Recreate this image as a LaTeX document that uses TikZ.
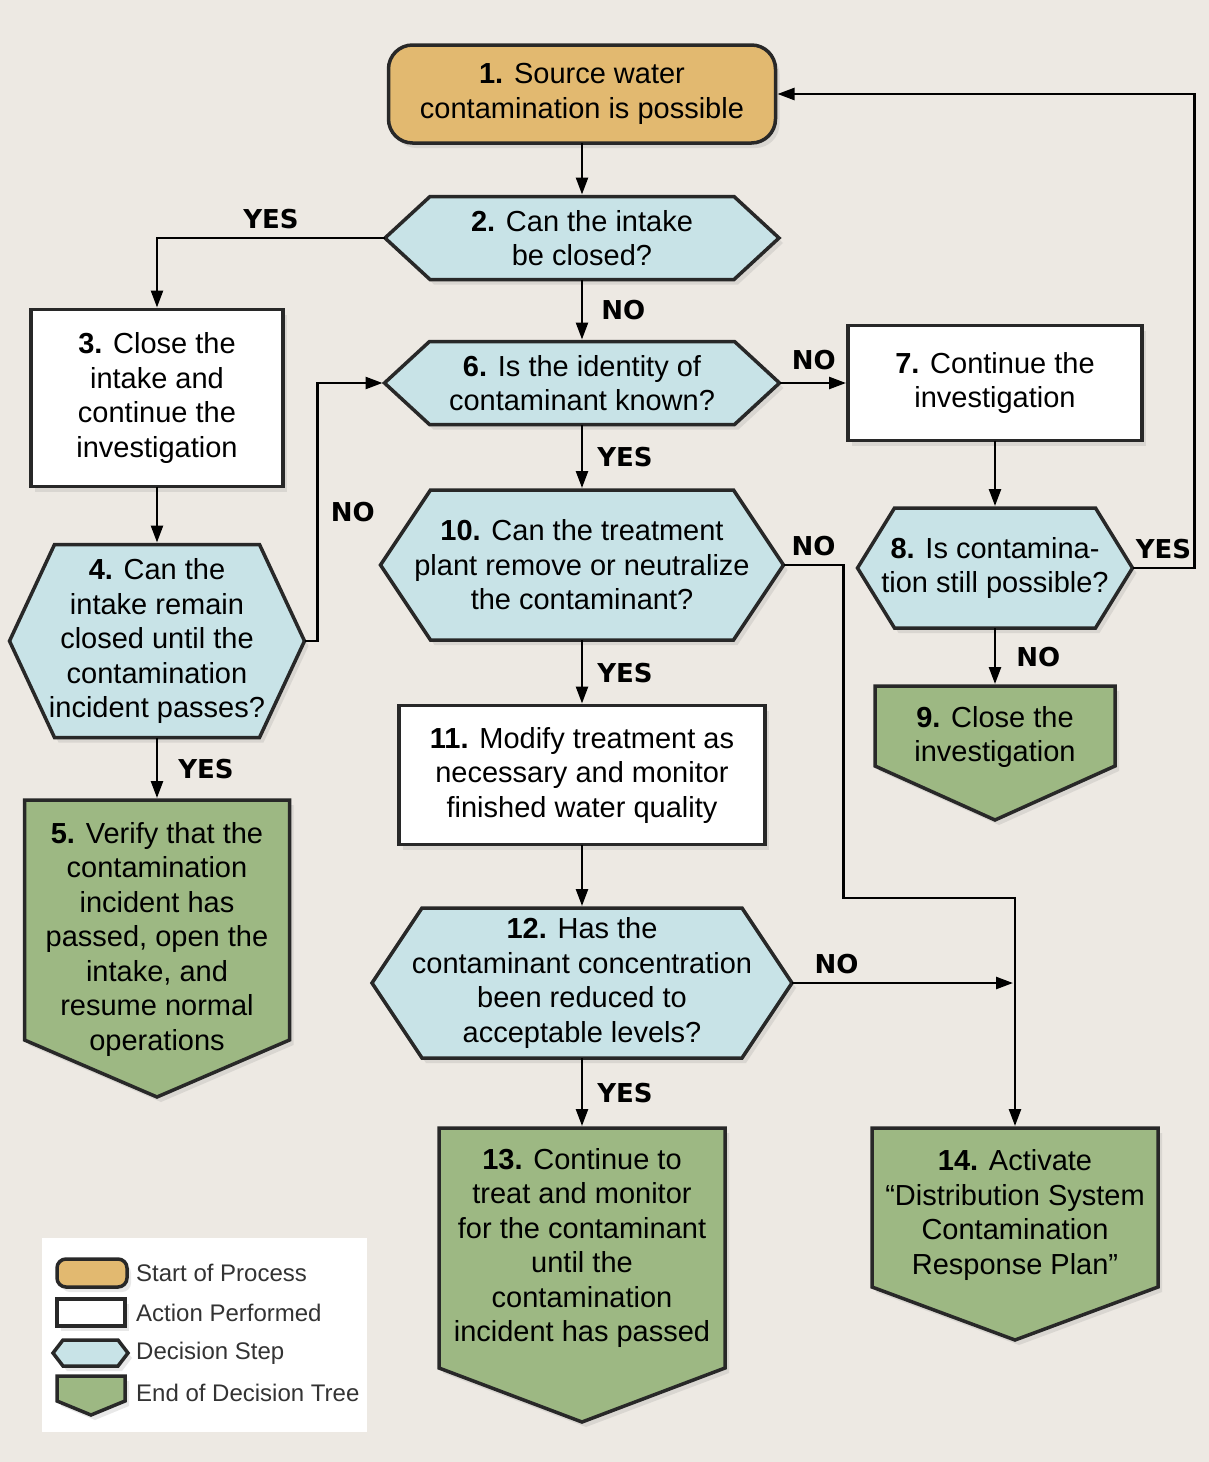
\documentclass[tikz,border=0pt]{standalone}
\usepackage{fontspec}
\setmainfont{Liberation Sans}
\newfontfamily\yesnofont{DejaVu Sans}
\usepackage{xcolor}
\usetikzlibrary{positioning,calc,arrows.meta,backgrounds,shadows}

\definecolor{paper}{RGB}{237,233,227}
\definecolor{startfill}{RGB}{226,185,112}
\definecolor{askfill}{RGB}{200,227,231}
\definecolor{endfill}{RGB}{157,184,131}
\definecolor{rim}{RGB}{40,40,40}

\tikzset{
  box/.style={inner sep=0pt, outer sep=0pt, align=center, font=\fontsize{29}{34.5}\selectfont},
  rimmed/.style={draw=rim, line width=3.5pt, drop shadow={opacity=0.18, shadow xshift=4pt, shadow yshift=-5pt}},
  flow/.style={line width=2.5pt, shorten >=2pt, -{Triangle[length=17pt,width=12pt]}},
  yn/.style={inner sep=0pt, font=\yesnofont\bfseries\fontsize{26}{26}\selectfont},
  legtext/.style={anchor=west, inner sep=0pt, text=black!80, font=\fontsize{24}{24}\selectfont}
}

\begin{document}
\begin{tikzpicture}[x=1pt,y=-1pt]

\useasboundingbox (0,0) rectangle (1209,1462);

\node[box, minimum width=387pt, minimum height=98pt] (n1) at (582,94) {\textbf{1.} Source water\\contamination is possible};
\node[box, minimum width=394pt, minimum height=83pt] (d2) at (582,238) {\textbf{2.} Can the intake\\be closed?};
\node[box, minimum width=252pt, minimum height=177pt] (a3) at (157,398) {\textbf{3.} Close the\\intake and\\continue the\\investigation};
\node[box, minimum width=295pt, minimum height=193pt] (d4) at (157,641) {\textbf{4.} Can the\\intake remain\\closed until the\\contamination\\incident passes?};
\node[box, minimum width=265pt, minimum height=278pt] (e5) at (157,939) {\textbf{5.} Verify that the\\contamination\\incident has\\passed, open the\\intake, and\\resume normal\\operations};
\node[box, minimum width=395pt, minimum height=83pt] (d6) at (582,383) {\textbf{6.} Is the identity of\\contaminant known?};
\node[box, minimum width=294pt, minimum height=115pt] (a7) at (995,383) {\textbf{7.} Continue the\\investigation};
\node[box, minimum width=275pt, minimum height=120pt] (d8) at (995,568) {\textbf{8.} Is contamina-\\tion still possible?};
\node[box, minimum width=240pt, minimum height=102pt] (e9) at (995,737) {\textbf{9.} Close the\\investigation};
\node[box, minimum width=403pt, minimum height=150pt] (d10) at (582,565) {\textbf{10.} Can the treatment\\plant remove or neutralize\\the contaminant?};
\node[box, minimum width=366pt, minimum height=139pt] (a11) at (582,775) {\textbf{11.} Modify treatment as\\necessary and monitor\\finished water quality};
\node[box, minimum width=420pt, minimum height=150pt] (d12) at (582,983) {\textbf{12.} Has the\\contaminant concentration\\been reduced to\\acceptable levels?};
\node[box, minimum width=286pt, minimum height=240pt] (e13) at (582,1248) {\textbf{13.} Continue to\\treat and monitor\\for the contaminant\\until the\\contamination\\incident has passed};
\node[box, minimum width=286pt, minimum height=174pt] (e14) at (1015,1215) {\textbf{14.} Activate\\``Distribution System\\Contamination\\Response Plan''};

\foreach \t [count=\i] in {Start of Process,Action Performed,Decision Step,End of Decision Tree}
  \node[legtext] (leg\i) at (136,1233+40*\i) {\t};

\coordinate (j14) at (d12.east -| e14.north);

\begin{scope}[on background layer]
\fill[paper] (0,0) rectangle (1209,1462);
\draw[rimmed, fill=startfill, rounded corners=24pt] (n1.north west) rectangle (n1.south east);
\foreach \n in {a3,a7,a11}
  \draw[rimmed, fill=white] (\n.north west) rectangle (\n.south east);
\foreach \n/\cut in {d2/45,d4/45,d6/45,d8/37,d10/50,d12/50}
  \draw[rimmed, fill=askfill] ($(\n.north west)+(\cut,0)$) -- ($(\n.north east)+(-\cut,0)$) -- (\n.east)
    -- ($(\n.south east)+(-\cut,0)$) -- ($(\n.south west)+(\cut,0)$) -- (\n.west) -- cycle;
\foreach \n/\side/\dep in {e5/-38/19,e9/-22/32,e13/0/54,e14/-15/38}
  \draw[rimmed, fill=endfill] (\n.north west) -- (\n.north east) -- ($(\n.south east)+(0,\side)$)
    -- ($(\n.south)+(0,\dep)$) -- ($(\n.south west)+(0,\side)$) -- cycle;

\fill[white] (42,1238) rectangle (367,1432);
\draw[rimmed, fill=startfill, rounded corners=9pt] (57,1259) rectangle (127,1287);
\draw[rimmed, fill=white] (57,1299) rectangle (125,1326);
\draw[rimmed, fill=askfill] (53,1353) -- (63,1340) -- (118,1340) -- (128,1353) -- (118,1366) -- (63,1366) -- cycle;
\draw[rimmed, fill=endfill] (57,1376) -- (125,1376) -- (125,1401) -- (91,1415) -- (57,1401) -- cycle;
\end{scope}

\draw[flow] (n1) -- (d2);
\draw[flow] (d2.west) -| (a3.north) node[pos=0.25, yn, above=8pt] (y2) {YES};
\draw[flow] (d2) -- (d6) node[midway, yn, right=18pt] (no2) {NO};
\draw[flow] (a3) -- (d4);
\draw[flow] (d4.east) -- ++(13,0) |- (d6.west) node[pos=0.25, yn, right=12pt] (no4) {NO};
\draw[flow] (d4) -- (e5) node[midway, yn, right=20pt] (y4) {YES};
\draw[flow] (d6) -- (a7) node[midway, yn, above=12pt] (no6) {NO};
\draw[flow] (d6) -- (d10) node[midway, yn, right=14pt] (y6) {YES};
\draw[flow] (a7) -- (d8);
\draw[flow] (d8.east) -- node[yn, above=8pt] (y8) {YES} ++(62,0) |- (n1.east);
\draw[flow] (d8) -- (e9) node[midway, yn, right=20pt] (no8) {NO};
\draw[flow] (d10.east) -- node[yn, above=8pt] (no10) {NO} ++(60,0) -- ++(0,333) -| (e14.north);
\draw[flow] (d10) -- (a11) node[midway, yn, right=14pt] (y10) {YES};
\draw[flow] (a11) -- (d12);
\draw[flow] (d12.east) -- (j14) node[pos=0.2, yn, above=8pt] (no12) {NO};
\draw[flow] (d12) -- (e13) node[midway, yn, right=14pt] (y12) {YES};

\end{tikzpicture}
\end{document}
